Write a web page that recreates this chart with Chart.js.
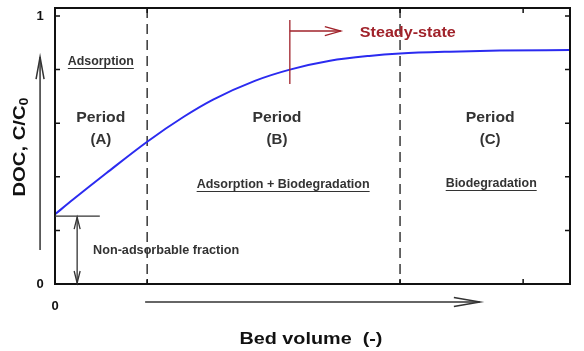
<!DOCTYPE html>
<html>
<head>
<meta charset="utf-8">
<script src="https://cdn.jsdelivr.net/npm/chart.js@4"></script>
<style>
html,body{margin:0;padding:0;background:#fff;}
#wrap{width:584px;height:351px;}
</style>
</head>
<body>
<div id="wrap"><canvas id="c" width="584" height="351"></canvas></div>
<script>
// ---- data ----
const bedVolume = [0, 3.5, 10, 17.9, 25, 30.7, 38.8, 45.6, 53.4, 61, 67, 76.7, 86.4, 100];
const docRatio  = [0.26, 0.315, 0.414, 0.531, 0.624, 0.688, 0.758, 0.800, 0.833, 0.851, 0.860, 0.867, 0.871, 0.873];
const periodBoundaries = [17.9, 67];
const xTickValues = [17.9, 67, 90.9];
const yTickValues = [0, 0.2, 0.4, 0.6, 0.8, 1.0];
const yTickLabels = ['0', '', '', '', '', '1'];
const xTickLabels = ['0'];
const nonAdsorbableFraction = 0.253;
const steadyStateStart = 45.6;
const periodNames = ['(A)', '(B)', '(C)'];
const processNames = ['Adsorption', 'Adsorption + Biodegradation', 'Biodegradation'];

const FONT = '"Liberation Sans", Arial, sans-serif';

function arrowHead(ctx, x, y, dir, len, half) {
  ctx.beginPath();
  if (dir === 'right') {
    ctx.moveTo(x - len, y - half); ctx.lineTo(x, y); ctx.lineTo(x - len, y + half);
  } else if (dir === 'up') {
    ctx.moveTo(x - half, y + len); ctx.lineTo(x, y); ctx.lineTo(x + half, y + len);
  } else {
    ctx.moveTo(x - half, y - len); ctx.lineTo(x, y); ctx.lineTo(x + half, y - len);
  }
  ctx.stroke();
}

// draw centred text, optionally stretched horizontally to a target width
function txt(ctx, s, x, y, font, color, targetW, underline, align) {
  ctx.save();
  ctx.font = font;
  ctx.fillStyle = color;
  ctx.textBaseline = 'middle';
  const w = ctx.measureText(s).width;
  const sx = targetW ? targetW / w : 1;
  const fw = w * sx;
  const left = align === 'left' ? x : x - fw / 2;
  ctx.translate(left, y);
  ctx.scale(sx, 1);
  ctx.textAlign = 'left';
  ctx.fillText(s, 0, 0);
  ctx.restore();
  if (underline) {
    ctx.save();
    ctx.strokeStyle = color;
    ctx.lineWidth = 1;
    const uy = Math.round(y + 6) + 0.5;
    ctx.beginPath();
    ctx.moveTo(left, uy);
    ctx.lineTo(left + fw, uy);
    ctx.stroke();
    ctx.restore();
  }
}

const decor = {
  id: 'decor',
  beforeDatasetsDraw(chart) {
    const {ctx, chartArea: a, scales: {x}} = chart;
    ctx.save();
    ctx.strokeStyle = '#444';
    ctx.lineWidth = 1.6;
    ctx.setLineDash([10, 6]);
    periodBoundaries.forEach(v => {
      const px = x.getPixelForValue(v);
      ctx.beginPath(); ctx.moveTo(px, a.top); ctx.lineTo(px, a.bottom); ctx.stroke();
    });
    ctx.restore();
  },
  afterDatasetsDraw(chart) {
    const {ctx, chartArea: a, scales: {x, y}} = chart;
    ctx.save();
    // frame
    ctx.strokeStyle = '#111';
    ctx.lineWidth = 2;
    ctx.strokeRect(a.left, a.top, a.right - a.left, a.bottom - a.top);
    // ticks
    ctx.lineWidth = 1.5;
    const tl = 5;
    yTickValues.forEach(v => {
      const py = y.getPixelForValue(v);
      ctx.beginPath();
      ctx.moveTo(a.left, py); ctx.lineTo(a.left + tl, py);
      ctx.moveTo(a.right, py); ctx.lineTo(a.right - tl, py);
      ctx.stroke();
    });
    xTickValues.forEach(v => {
      const px = x.getPixelForValue(v);
      ctx.beginPath();
      ctx.moveTo(px, a.bottom); ctx.lineTo(px, a.bottom - tl);
      ctx.moveTo(px, a.top); ctx.lineTo(px, a.top + tl);
      ctx.stroke();
    });
    // tick labels
    ctx.font = 'bold 13px ' + FONT;
    ctx.fillStyle = '#111';
    ctx.textAlign = 'center';
    ctx.textBaseline = 'middle';
    yTickValues.forEach((v, i) => {
      if (yTickLabels[i]) ctx.fillText(yTickLabels[i], a.left - 15, y.getPixelForValue(v));
    });
    ctx.fillText(xTickLabels[0], x.getPixelForValue(0), a.bottom + 22);

    // non-adsorbable fraction marker
    ctx.strokeStyle = '#333';
    ctx.lineWidth = 1.3;
    const ny = y.getPixelForValue(nonAdsorbableFraction);
    ctx.beginPath();
    ctx.moveTo(a.left, ny); ctx.lineTo(x.getPixelForValue(8.7), ny); ctx.stroke();
    const ax = x.getPixelForValue(4.3);
    ctx.beginPath(); ctx.moveTo(ax, ny + 1); ctx.lineTo(ax, a.bottom - 1); ctx.stroke();
    arrowHead(ctx, ax, ny + 1, 'up', 12, 3);
    arrowHead(ctx, ax, a.bottom - 1, 'down', 12, 3);

    // axis direction arrows
    ctx.strokeStyle = '#333';
    ctx.lineWidth = 1.5;
    const yax = x.getPixelForValue(-2.9);
    const yTop = y.getPixelForValue(0.847), yBot = y.getPixelForValue(0.127);
    ctx.beginPath(); ctx.moveTo(yax, yBot); ctx.lineTo(yax, yTop); ctx.stroke();
    arrowHead(ctx, yax, yTop, 'up', 22, 4);
    const xay = y.getPixelForValue(-0.067);
    const xL = x.getPixelForValue(17.5), xR = x.getPixelForValue(82.5);
    ctx.beginPath(); ctx.moveTo(xL, xay); ctx.lineTo(xR, xay); ctx.stroke();
    arrowHead(ctx, xR, xay, 'right', 26, 4.5);

    // steady-state marker
    const red = '#a0222a';
    ctx.strokeStyle = red;
    ctx.lineWidth = 1.3;
    const sx = x.getPixelForValue(steadyStateStart);
    ctx.beginPath();
    ctx.moveTo(sx, y.getPixelForValue(0.985)); ctx.lineTo(sx, y.getPixelForValue(0.746)); ctx.stroke();
    const sy = y.getPixelForValue(0.944), sxe = x.getPixelForValue(55.5);
    ctx.beginPath(); ctx.moveTo(sx, sy); ctx.lineTo(sxe, sy); ctx.stroke();
    arrowHead(ctx, sxe, sy, 'right', 16, 4.5);
    txt(ctx, 'Steady-state', x.getPixelForValue(68.5), y.getPixelForValue(0.937), 'bold 15px ' + FONT, red, 96);

    // period labels
    const grey = '#333';
    const periodCenters = [8.9, 43.1, 84.5];
    periodCenters.forEach((cx, i) => {
      const px = x.getPixelForValue(cx);
      txt(ctx, 'Period', px, y.getPixelForValue(0.619), 'bold 15px ' + FONT, grey, 49);
      txt(ctx, periodNames[i], px, y.getPixelForValue(0.537), 'bold 15px ' + FONT, grey, 0);
    });
    txt(ctx, processNames[0], x.getPixelForValue(8.9), y.getPixelForValue(0.828), 'bold 12px ' + FONT, grey, 66, true);
    txt(ctx, processNames[1], x.getPixelForValue(44.3), y.getPixelForValue(0.369), 'bold 12px ' + FONT, grey, 173, true);
    txt(ctx, processNames[2], x.getPixelForValue(84.7), y.getPixelForValue(0.373), 'bold 12px ' + FONT, grey, 91, true);
    txt(ctx, 'Non-adsorbable fraction', x.getPixelForValue(7.4), y.getPixelForValue(0.123), 'bold 12px ' + FONT, grey, 146, false, 'left');

    // axis titles
    txt(ctx, 'Bed volume  (-)', x.getPixelForValue(49.7), y.getPixelForValue(-0.209), 'bold 16px ' + FONT, '#111', 143);

    ctx.save();
    ctx.translate(x.getPixelForValue(-6.8), y.getPixelForValue(0.511));
    ctx.rotate(-Math.PI / 2);
    ctx.fillStyle = '#111';
    ctx.textBaseline = 'middle';
    ctx.font = 'bold 17px ' + FONT;
    const main = 'DOC, C/C';
    const wMain = ctx.measureText(main).width;
    ctx.font = 'bold 12px ' + FONT;
    const wSub = ctx.measureText('0').width;
    const total = wMain + wSub;
    const k = 99 / total;
    ctx.scale(k, 1);
    const start = -total / 2;
    ctx.textAlign = 'left';
    ctx.font = 'bold 17px ' + FONT;
    ctx.fillText(main, start, 0);
    ctx.font = 'bold 12px ' + FONT;
    ctx.fillText('0', start + wMain, 5);
    ctx.restore();

    ctx.restore();
  }
};

new Chart(document.getElementById('c'), {
  type: 'scatter',
  data: {
    datasets: [{
      data: bedVolume.map((v, i) => ({x: v, y: docRatio[i]})),
      showLine: true,
      borderColor: '#2b2bf0',
      borderWidth: 2,
      pointRadius: 0,
      cubicInterpolationMode: 'monotone',
      fill: false
    }]
  },
  options: {
    responsive: false,
    animation: false,
    devicePixelRatio: 1,
    layout: {padding: {left: 55, right: 14, top: 8, bottom: 67}},
    plugins: {legend: {display: false}, tooltip: {enabled: false}},
    scales: {
      x: {type: 'linear', min: 0, max: 100, display: false},
      y: {type: 'linear', min: 0, max: 1.0299, display: false}
    }
  },
  plugins: [decor]
});
</script>
</body>
</html>
